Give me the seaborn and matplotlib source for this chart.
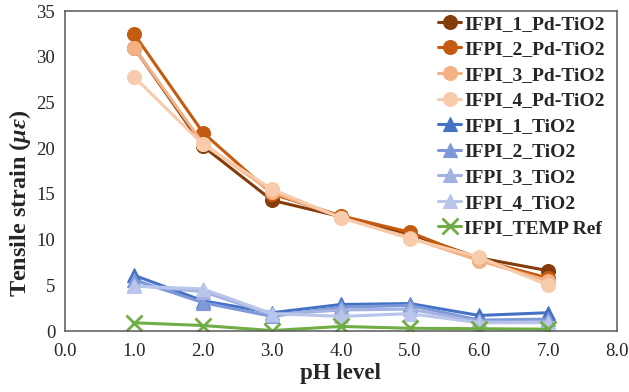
import seaborn as sns
import matplotlib
matplotlib.use('Agg')
from matplotlib import pyplot as plt

sns.set_style('white')
plt.rcParams['font.family'] = ['Liberation Serif', 'DejaVu Serif']
plt.rcParams['mathtext.fontset'] = 'custom'
plt.rcParams['mathtext.it'] = 'Liberation Serif:italic:bold'
plt.rcParams['mathtext.rm'] = 'Liberation Serif:bold'

ph = [1.0, 2.0, 3.0, 4.0, 5.0, 6.0, 7.0]

pd_1 = [31.0, 20.2, 14.3, 12.5, 10.6, 8.0, 6.6]
pd_2 = [32.5, 21.7, 15.0, 12.6, 10.8, 7.8, 5.8]
pd_3 = [31.0, 20.5, 15.2, 12.4, 10.2, 7.7, 5.5]
pd_4 = [27.8, 20.4, 15.5, 12.4, 10.1, 8.1, 5.0]

ti_1 = [6.1, 3.3, 2.0, 2.9, 3.0, 1.7, 2.0]
ti_2 = [5.6, 3.1, 1.6, 2.6, 2.8, 1.2, 1.3]
ti_3 = [5.0, 4.3, 1.8, 2.3, 2.4, 1.0, 1.0]
ti_4 = [4.9, 4.6, 1.9, 1.6, 1.9, 0.9, 0.9]

temp_ref = [0.9, 0.6, 0.05, 0.5, 0.3, 0.25, 0.2]

series = [
    ('IFPI_1_Pd-TiO2', pd_1, '#843C0C', 'o'),
    ('IFPI_2_Pd-TiO2', pd_2, '#C55A11', 'o'),
    ('IFPI_3_Pd-TiO2', pd_3, '#F4B183', 'o'),
    ('IFPI_4_Pd-TiO2', pd_4, '#F8CBAD', 'o'),
    ('IFPI_1_TiO2', ti_1, '#4472C4', '^'),
    ('IFPI_2_TiO2', ti_2, '#7F98D8', '^'),
    ('IFPI_3_TiO2', ti_3, '#A2B2E2', '^'),
    ('IFPI_4_TiO2', ti_4, '#B9C5EA', '^'),
    ('IFPI_TEMP Ref', temp_ref, '#70AD47', 'x'),
]

fig = plt.figure(figsize=(6.29, 3.92), dpi=100)
ax = fig.add_axes([65 / 629, 61 / 392, 552 / 629, 320 / 392])

for name, vals, col, mk in series:
    sns.lineplot(x=ph, y=vals, ax=ax, color=col, marker=mk, label=name,
                 linewidth=2.2, markersize=10 if mk != 'x' else 11,
                 markeredgecolor=col, markeredgewidth=2 if mk == 'x' else 0.8)

ax.set_xlim(0, 8)
ax.set_ylim(0, 35)
ax.set_xticks(range(0, 9))
ax.set_xticklabels([f'{v:.1f}' for v in range(0, 9)])
ax.set_yticks(range(0, 36, 5))
ax.tick_params(axis='both', labelsize=13.5, direction='in', length=4,
               color='#404040', pad=7)
ax.tick_params(axis='x', pad=9)
for sp in ax.spines.values():
    sp.set_color('#595959')
    sp.set_linewidth(1.1)

ax.set_xlabel('pH level', fontsize=16.5, fontweight='bold', labelpad=2)
ax.set_ylabel(r'Tensile strain ($\mu\varepsilon$)', fontsize=17.5,
              fontweight='bold')
ax.yaxis.set_label_coords(-0.058, 0.40)

ax.legend(loc='upper left', bbox_to_anchor=(438 / 629, 377 / 392),
          bbox_transform=fig.transFigure, frameon=False, borderaxespad=0,
          borderpad=0, handlelength=1.2, handletextpad=0.15,
          labelspacing=0.41, prop={'size': 14, 'weight': 'bold'})

fig.savefig('out.png', dpi=100)
